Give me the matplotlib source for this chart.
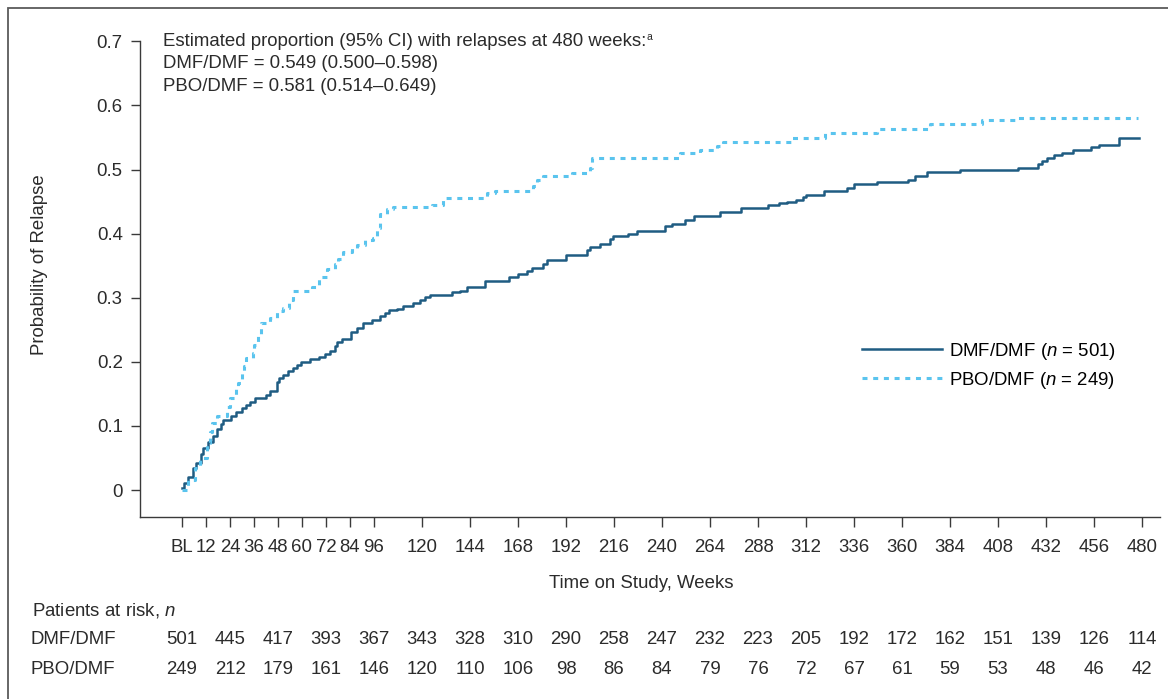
import matplotlib
matplotlib.use("Agg")
import matplotlib.pyplot as plt
from matplotlib.patches import Rectangle
from matplotlib.transforms import blended_transform_factory

plt.rcParams["font.family"] = ["Liberation Sans", "DejaVu Sans"]
plt.rcParams["mathtext.fontset"] = "custom"
plt.rcParams["mathtext.rm"] = "Liberation Sans"
plt.rcParams["mathtext.it"] = "Liberation Sans:italic"
plt.rcParams["lines.scale_dashes"] = False

TEXT = "#2b2b2b"
AXIS = "#3a3a3a"
DMF_COLOR = "#1f5c82"
PBO_COLOR = "#5ac4ee"
FS = 13.4

# estimated proportion with relapse at week 480
dmf_480 = 0.549
pbo_480 = 0.581

# Kaplan-Meier step points (weeks, probability of relapse)
dmf_weeks = [0, 1, 3.2, 5.7, 6.8, 9.3, 10.7, 13.2, 15.3, 17.7, 19.3, 20.7, 24.3, 27, 29.8,
             32, 34, 36.3, 42, 44, 47.3, 48.7, 50.7, 53.2, 55.7, 57.3, 59.5, 64, 68.7, 71.5,
             74, 76.5, 77.7, 79.8, 84.3, 87.3, 90.7, 95.2, 99, 101.5, 103.7, 107.3, 110.7,
             115.7, 119, 121.5, 124, 134.8, 139, 142.3, 151.5, 163.7, 168.2, 172.3, 174.8,
             180.3, 182.3, 192, 202.3, 204, 209, 214, 215.7, 223.2, 227.3, 241.5, 244.8,
             251.5, 256, 269, 279.3, 293.2, 298.7, 302.3, 307, 310.7, 312, 321, 332.3, 336,
             347.3, 363.2, 366.5, 372.3, 389, 418.2, 428.2, 429.8, 432.7, 436, 439.8, 445.7,
             454.3, 458.7, 468.7, 478.7]
dmf_prob = [0.003, 0.0115, 0.021, 0.034, 0.043, 0.057, 0.066, 0.075, 0.084, 0.096, 0.103,
            0.109, 0.116, 0.122, 0.128, 0.133, 0.138, 0.143, 0.148, 0.155, 0.169, 0.175,
            0.180, 0.185, 0.190, 0.195, 0.200, 0.204, 0.208, 0.2125, 0.217, 0.225, 0.231,
            0.236, 0.247, 0.253, 0.260, 0.266, 0.271, 0.276, 0.281, 0.283, 0.2875, 0.292,
            0.296, 0.301, 0.304, 0.309, 0.311, 0.317, 0.3255, 0.332, 0.3375, 0.341, 0.346,
            0.352, 0.359, 0.367, 0.375, 0.379, 0.384, 0.392, 0.396, 0.400, 0.404, 0.4115,
            0.4156, 0.421, 0.427, 0.433, 0.440, 0.444, 0.447, 0.449, 0.452, 0.457, 0.461,
            0.466, 0.471, 0.477, 0.481, 0.483, 0.490, 0.496, 0.500, 0.503, 0.508, 0.5135,
            0.518, 0.522, 0.526, 0.530, 0.535, 0.539, dmf_480, dmf_480]

pbo_weeks = [0, 3.2, 6.5, 9, 12.3, 14, 15, 17.7, 22.3, 24, 27, 28.2, 29.8, 31, 32, 35.3, 36,
             38.2, 39.3, 44, 47.3, 50.7, 53.7, 55.3, 64.8, 68.7, 72.3, 76.5, 78, 80.7, 84.8,
             87.3, 91.5, 95.7, 97.7, 99, 102.3, 105.7, 124.8, 130.3, 152.7, 156.5, 175.7,
             177.3, 180.7, 194.8, 204, 205, 249, 259, 267.3, 270.7, 304.8, 321.5, 347.3, 374,
             399.8, 416.5, 478]
pbo_prob = [0.0, 0.0156, 0.034, 0.05, 0.073, 0.091, 0.104, 0.115, 0.130, 0.143, 0.159, 0.167,
            0.185, 0.194, 0.206, 0.214, 0.227, 0.242, 0.260, 0.268, 0.279, 0.284, 0.297, 0.311,
            0.317, 0.333, 0.345, 0.352, 0.360, 0.371, 0.378, 0.383, 0.390, 0.393, 0.409, 0.431,
            0.4385, 0.442, 0.445, 0.456, 0.4635, 0.466, 0.474, 0.484, 0.490, 0.495, 0.503,
            0.518, 0.525, 0.530, 0.536, 0.543, 0.5495, 0.557, 0.5635, 0.571, 0.577, pbo_480,
            pbo_480]

x_ticks = [0, 12, 24, 36, 48, 60, 72, 84, 96, 120, 144, 168, 192, 216, 240, 264, 288, 312,
           336, 360, 384, 408, 432, 456, 480]
x_labels = ["BL"] + [str(t) for t in x_ticks[1:]]
y_ticks = [0, 0.1, 0.2, 0.3, 0.4, 0.5, 0.6, 0.7]
y_labels = ["0", "0.1", "0.2", "0.3", "0.4", "0.5", "0.6", "0.7"]

risk_weeks = list(range(0, 481, 24))
risk_dmf = [501, 445, 417, 393, 367, 343, 328, 310, 290, 258, 247, 232, 223, 205, 192, 172,
            162, 151, 139, 126, 114]
risk_pbo = [249, 212, 179, 161, 146, 120, 110, 106, 98, 86, 84, 79, 76, 72, 67, 61, 59, 53,
            48, 46, 42]

W, H = 1168, 699


def fx(px):
    return px / W


def fy(py):
    return 1 - py / H


fig = plt.figure(figsize=(W / 100, H / 100), dpi=100)
ax = fig.add_axes([fx(140), fy(517), fx(1160) - fx(140), fy(41.3) - fy(517)])

ax.step(dmf_weeks, dmf_prob, where="post", color=DMF_COLOR, lw=1.8,
        label="DMF/DMF ($n$ = 501)")
ax.step(pbo_weeks, pbo_prob, where="post", color=PBO_COLOR, lw=2.2,
        ls=(0, (3.6, 4.1)), label="PBO/DMF ($n$ = 249)")

ax.set_xlim(-21, 489)
ax.set_ylim(-0.042, 0.7)
ax.set_xticks(x_ticks)
ax.set_xticklabels(x_labels)
ax.set_yticks(y_ticks)
ax.set_yticklabels(y_labels)
ax.tick_params(axis="both", direction="out", colors=AXIS, labelcolor=TEXT,
               labelsize=FS, width=1.0)
ax.tick_params(axis="x", length=7, pad=9)
ax.tick_params(axis="y", length=6.5, pad=6)

for side in ("top", "right"):
    ax.spines[side].set_visible(False)
for side in ("left", "bottom"):
    ax.spines[side].set_color(AXIS)
    ax.spines[side].set_linewidth(1.0)
ax.spines["left"].set_bounds(-0.042, 0.7)

ax.set_xlabel("Time on Study, Weeks", fontsize=FS, color=TEXT)
ax.xaxis.set_label_coords((641 - 140) / 1020, -(575 - 517) / 475.7)
ax.set_ylabel("Probability of Relapse", fontsize=FS, color=TEXT, va="center")
ax.yaxis.set_label_coords((40 - 140) / 1020, (517 - 265) / 475.7)

ax.legend(loc="upper left", bbox_to_anchor=(fx(862), fy(341)),
          bbox_transform=fig.transFigure, frameon=False, fontsize=FS,
          handlelength=4.3, handletextpad=0.35, labelspacing=0.42, borderpad=0,
          borderaxespad=0)

# estimate text block
note_lines = [
    "Estimated proportion (95% CI) with relapses at 480 weeks:",
    f"DMF/DMF = {dmf_480:.3f} (0.500\u20130.598)",
    f"PBO/DMF = {pbo_480:.3f} (0.514\u20130.649)",
]
note_texts = []
for line, py in zip(note_lines, [41.7, 63.8, 86.5]):
    note_texts.append(fig.text(fx(163), fy(py), line, fontsize=FS, color=TEXT,
                               ha="left", va="center"))
ax.annotate("a", xy=(1, 0.78), xycoords=note_texts[0], xytext=(0.5, 0),
            textcoords="offset points", fontsize=7.5, color=TEXT, ha="left", va="center")

# patients-at-risk table
fig.text(fx(32), fy(611), "Patients at risk, $n$", fontsize=FS, color=TEXT,
         ha="left", va="center")
row_tf = blended_transform_factory(ax.transData, fig.transFigure)
for name, counts, py in [("DMF/DMF", risk_dmf, 640), ("PBO/DMF", risk_pbo, 669)]:
    fig.text(fx(31), fy(py), name, fontsize=FS, color=TEXT, ha="left", va="center")
    for wk, n in zip(risk_weeks, counts):
        ax.text(wk, fy(py), str(n), transform=row_tf, fontsize=FS, color=TEXT,
                ha="center", va="center", clip_on=False)

# outer frame
fig.patches.append(Rectangle((fx(8.3), -0.1), 1.2, fy(8.3) + 0.1, transform=fig.transFigure,
                             fill=False, ec="#5a5a5a", lw=1.3))

fig.savefig("out.png", dpi=100)
plt.close(fig)
